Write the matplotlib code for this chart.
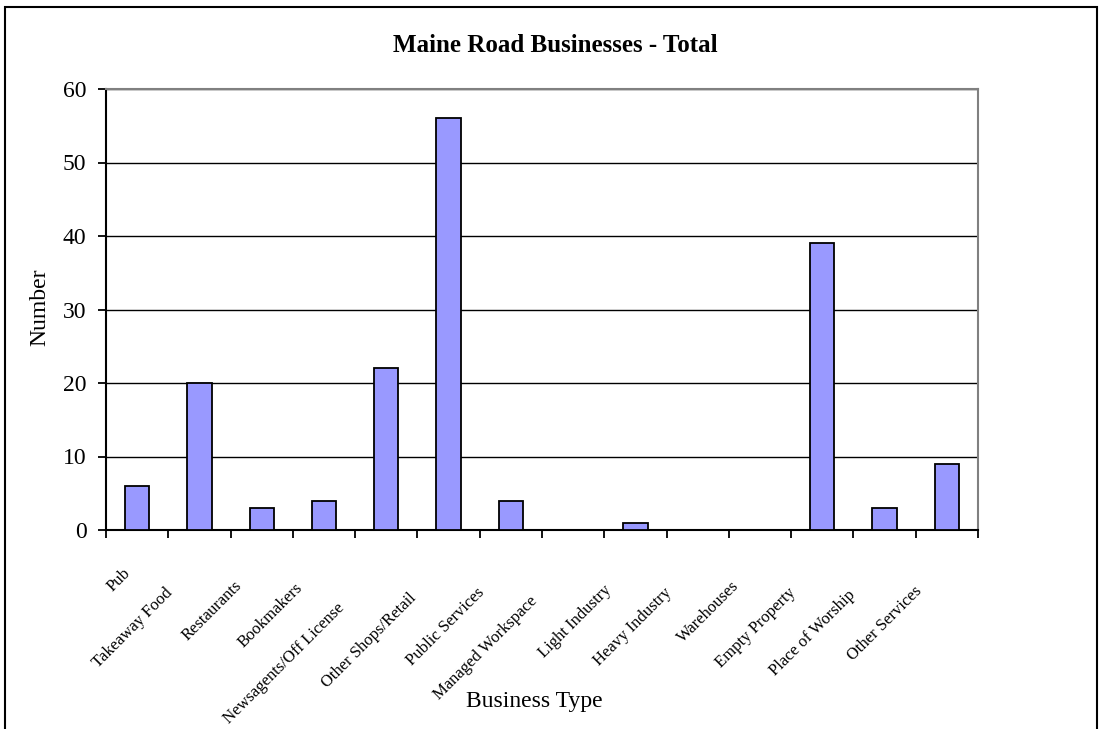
import matplotlib
matplotlib.use("Agg")
import matplotlib.pyplot as plt
import matplotlib.transforms as mtransforms
from matplotlib.patches import Rectangle
import numpy as np

# data
categories = ["Pub", "Takeaway Food", "Restaurants", "Bookmakers",
              "Newsagents/Off License", "Other Shops/Retail", "Public Services",
              "Managed Workspace", "Light Industry", "Heavy Industry",
              "Warehouses", "Empty Property", "Place of Worship", "Other Services"]
counts = [6, 20, 3, 4, 22, 56, 4, 0, 1, 0, 0, 39, 3, 9]
yticks = [0, 10, 20, 30, 40, 50, 60]

plt.rcParams['font.family'] = ['Liberation Serif', 'DejaVu Serif']

fig = plt.figure(figsize=(11.02, 7.29), dpi=100)
ax = fig.add_axes([106/1102, 1-530/729, (978-106)/1102, (530-89)/729])

x = np.arange(len(categories))
ax.bar(x, counts, width=0.39, color='#9999FF', edgecolor='black', linewidth=1.3, zorder=3)

ax.set_xlim(-0.5, len(categories)-0.5)
ax.set_ylim(0, 60)
ax.set_yticks(yticks)
ax.set_yticklabels([str(v) for v in yticks], fontsize=17)
ax.yaxis.grid(True, color='black', linewidth=1.0, zorder=1)
ax.set_axisbelow(True)

# ticks at category boundaries
ax.set_xticks(np.arange(len(categories)+1) - 0.5)
ax.set_xticklabels([])
ax.tick_params(axis='x', direction='out', length=6, width=1.3, color='black')
ax.tick_params(axis='y', direction='out', length=6, width=1.3, color='black', pad=8)

for side in ['left', 'bottom']:
    ax.spines[side].set_color('black')
    ax.spines[side].set_linewidth(1.5)
for side in ['top', 'right']:
    ax.spines[side].set_color('#808080')
    ax.spines[side].set_linewidth(1.5)

# rotated category labels
blend = mtransforms.blended_transform_factory(ax.transData, ax.transAxes)
labels = []
for i, name in enumerate(categories):
    t = ax.text(i, 0, name, transform=blend, rotation=45, ha='right', va='top',
                rotation_mode='anchor', fontsize=12, clip_on=False)
    labels.append(t)

fig.canvas.draw()
renderer = fig.canvas.get_renderer()
for t in labels:
    w = t.get_window_extent(renderer).width
    shift = 0.36 * w
    off = mtransforms.Affine2D().translate(-4 - shift, -24 - shift)
    t.set_transform(blend + off)

fig.text(40/1102, 1-307/729, "Number", fontsize=17, rotation=90, ha='center', va='center')
fig.text(534/1102, 1-702/729, "Business Type", fontsize=17, ha='center', va='center')
fig.text(555/1102, 1-45/729, "Maine Road Businesses - Total", fontsize=18,
         fontweight='bold', ha='center', va='center')

# outer chart border
fig.patches.append(Rectangle((5/1102, -0.05), (1097-5)/1102, 1.05 - 7/729,
                             transform=fig.transFigure, fill=False,
                             edgecolor='black', linewidth=1.5))

fig.savefig("out.png", dpi=100)
